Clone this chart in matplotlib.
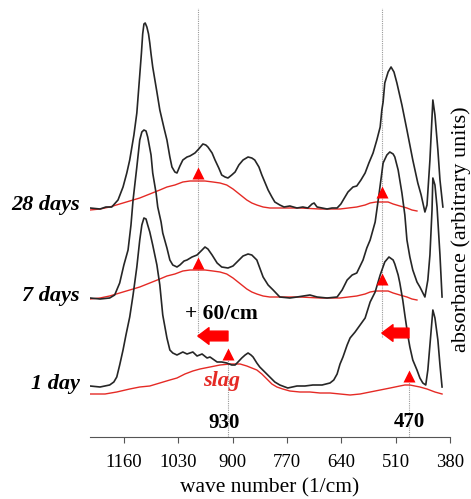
import numpy as np
import matplotlib
matplotlib.use("Agg")
import matplotlib.pyplot as plt

# wave numbers (1/cm) and absorbance (arb. units)
wn_28 = [1241, 1217, 1203, 1189, 1174, 1162, 1153, 1146, 1136, 1129, 1122, 1118, 1115, 1112,
         1109, 1105, 1101, 1098, 1095, 1091, 1081, 1074, 1064, 1057, 1050, 1045, 1038, 1033,
         1026, 1019, 1009, 1002, 990, 981, 971, 964, 959, 949, 942, 933, 926, 918, 911, 902,
         894, 885, 875, 863, 854, 847, 837, 830, 823, 815, 806, 799, 787, 777, 763, 746, 732,
         720, 710, 705, 698, 686, 674, 662, 650, 641, 634, 624, 612, 603, 593, 583, 574, 564,
         555, 547, 543, 540, 536, 528, 521, 514, 507, 495, 483, 476, 469, 457, 449, 440, 435,
         428, 421, 416, 409, 404, 397]
abs_28 = [0.00, -0.01, 0.01, 0.01, 0.08, 0.21, 0.35, 0.48, 0.73, 0.95, 1.33, 1.55, 1.74, 1.84,
          1.85, 1.81, 1.74, 1.65, 1.54, 1.41, 1.16, 0.98, 0.80, 0.68, 0.51, 0.41, 0.36, 0.35,
          0.42, 0.48, 0.51, 0.52, 0.55, 0.59, 0.64, 0.63, 0.61, 0.55, 0.48, 0.40, 0.33, 0.31,
          0.30, 0.33, 0.36, 0.43, 0.48, 0.51, 0.50, 0.48, 0.41, 0.33, 0.26, 0.18, 0.11, 0.06,
          0.03, 0.01, 0.02, 0.00, 0.01, 0.00, 0.04, 0.05, 0.01, 0.00, -0.01, 0.00, 0.00, 0.04,
          0.09, 0.16, 0.21, 0.22, 0.28, 0.35, 0.45, 0.55, 0.68, 0.81, 0.98, 1.06, 1.25, 1.36,
          1.41, 1.36, 1.25, 1.03, 0.78, 0.63, 0.48, 0.25, 0.13, -0.04, 0.03, 0.48, 1.08, 0.93,
          0.58, 0.28, 0.01]

wn_7 = [1241, 1217, 1194, 1182, 1170, 1160, 1150, 1143, 1138, 1129, 1122, 1117, 1112, 1107,
        1103, 1095, 1091, 1083, 1079, 1071, 1067, 1057, 1050, 1043, 1033, 1026, 1016, 1009,
        997, 985, 973, 966, 959, 949, 937, 926, 911, 899, 887, 875, 863, 854, 842, 827,
        815, 803, 787, 763, 746, 715, 698, 674, 650, 638, 626, 614, 603, 588, 579, 571,
        559, 550, 540, 531, 524, 516, 512, 504, 495, 488, 483, 476, 469, 459, 452, 440,
        433, 428, 423, 421, 416, 411, 404, 399]
abs_7 = [0.00, -0.01, 0.00, 0.03, 0.15, 0.33, 0.48, 0.73, 0.98, 1.31, 1.58, 1.66, 1.68, 1.67,
         1.61, 1.43, 1.25, 1.05, 0.91, 0.76, 0.65, 0.50, 0.38, 0.33, 0.31, 0.33, 0.37, 0.38,
         0.41, 0.43, 0.48, 0.51, 0.49, 0.43, 0.35, 0.31, 0.30, 0.32, 0.37, 0.42, 0.44, 0.43,
         0.38, 0.21, 0.13, 0.08, 0.01, 0.00, 0.01, 0.03, 0.01, 0.00, 0.01, 0.08, 0.18, 0.23,
         0.25, 0.38, 0.50, 0.58, 0.76, 1.03, 1.35, 1.43, 1.46, 1.44, 1.41, 1.28, 1.05, 0.83,
         0.58, 0.41, 0.28, 0.16, 0.11, 0.01, 0.18, 0.43, 0.88, 1.20, 1.13, 0.91, 0.43, 0.01]

wn_1 = [1241, 1217, 1194, 1184, 1177, 1170, 1162, 1155, 1146, 1138, 1129, 1122, 1117, 1112,
        1107, 1103, 1098, 1091, 1081, 1074, 1067, 1057, 1050, 1043, 1033, 1019, 1009, 995,
        985, 973, 961, 954, 937, 926, 914, 902, 894, 887, 878, 870, 863, 856, 851, 842,
        835, 823, 811, 799, 787, 768, 746, 727, 708, 686, 667, 658, 650, 643, 636, 626,
        619, 607, 595, 583, 571, 559, 547, 536, 526, 516, 512, 504, 500, 493, 488, 481,
        476, 469, 459, 452, 445, 438, 433, 428, 423, 421, 416, 409, 404, 399]
abs_1 = [0.00, -0.01, 0.01, 0.04, 0.09, 0.21, 0.36, 0.51, 0.69, 0.91, 1.19, 1.46, 1.61, 1.68,
         1.67, 1.61, 1.54, 1.41, 1.21, 1.01, 0.71, 0.48, 0.36, 0.33, 0.31, 0.34, 0.32, 0.34,
         0.30, 0.32, 0.28, 0.29, 0.24, 0.24, 0.23, 0.21, 0.21, 0.24, 0.28, 0.31, 0.33, 0.31,
         0.29, 0.23, 0.19, 0.14, 0.09, 0.04, 0.01, -0.02, 0.00, 0.00, 0.01, 0.01, 0.03, 0.06,
         0.12, 0.22, 0.29, 0.41, 0.48, 0.54, 0.61, 0.68, 0.84, 0.94, 1.11, 1.24, 1.29, 1.26,
         1.22, 1.11, 1.03, 0.86, 0.71, 0.51, 0.39, 0.26, 0.16, 0.08, 0.03, 0.01, 0.16, 0.41,
         0.66, 0.76, 0.68, 0.46, 0.21, -0.01]

# slag spectrum, as measured and shifted by +60/cm
wn_slag = [1241, 1205, 1177, 1146, 1122, 1098, 1074, 1050, 1033, 1014, 995, 978, 954, 930,
           906, 882, 866, 854, 842, 830, 818, 806, 794, 780, 763, 739, 715, 691, 667, 643,
           619, 595, 571, 547, 523, 500, 488, 476, 464, 452, 435, 416, 399]
abs_slag = [0.00, 0.00, 0.02, 0.05, 0.07, 0.08, 0.11, 0.14, 0.16, 0.20, 0.23, 0.25, 0.27, 0.29,
            0.30, 0.30, 0.28, 0.26, 0.24, 0.20, 0.15, 0.10, 0.07, 0.05, 0.03, 0.02, 0.02, 0.01,
            0.01, 0.00, -0.01, 0.00, 0.02, 0.04, 0.06, 0.08, 0.09, 0.09, 0.08, 0.07, 0.05, 0.02,
            0.00]
wn_slag_sh = [1241, 1217, 1194, 1170, 1138, 1122, 1098, 1074, 1057, 1038, 1019, 1002, 985, 966,
              947, 930, 914, 899, 890, 878, 866, 854, 842, 827, 811, 780, 739, 691, 643, 603,
              583, 571, 557, 543, 528, 516, 500, 483, 471, 459]
abs_slag_sh = [0.00, 0.01, 0.03, 0.06, 0.10, 0.12, 0.16, 0.20, 0.23, 0.25, 0.28, 0.29, 0.29, 0.29,
               0.28, 0.27, 0.25, 0.21, 0.18, 0.14, 0.10, 0.07, 0.05, 0.03, 0.02, 0.02, 0.02, 0.01,
               0.01, 0.03, 0.05, 0.07, 0.08, 0.08, 0.08, 0.06, 0.04, 0.02, 0.00, -0.01]

labels = ["28 days", "7 days", "1 day"]
offsets = [2.29, 1.39, 0.51]
slag_offsets = [2.27, 1.38, 0.43]

# peak markers (wave number, absorbance incl. offset)
peak_wn = [983, 543, 983, 543, 911, 478]
peak_y = [2.64, 2.45, 1.74, 1.58, 0.83, 0.61]

xticks = [1160, 1030, 900, 770, 640, 510, 380]

RED = "#e52a25"
BLACK = "#262626"
serif = ["Liberation Serif", "DejaVu Serif"]
plt.rcParams["font.family"] = serif

fig = plt.figure(figsize=(4.71, 4.99), dpi=100)
ax = fig.add_axes([90 / 471, 62 / 499, 360 / 471, 437 / 499])

spectra = [(wn_28, abs_28), (wn_7, abs_7), (wn_1, abs_1)]
for (wn, ab), off in zip(spectra, offsets):
    ax.plot(wn, np.array(ab) + off, color=BLACK, lw=1.2, zorder=3)

for i, off in enumerate(slag_offsets):
    if i < 2:
        ax.plot(wn_slag_sh, np.array(abs_slag_sh) + off, color=RED, lw=1.0, zorder=2)
    else:
        ax.plot(wn_slag, np.array(abs_slag) + off, color=RED, lw=1.0, zorder=2)

# dotted guide lines
ax.vlines([983, 543], 1.00, 4.29, colors="#9a9a9a", linestyles=(0, (1, 1)), lw=0.8, zorder=1)
ax.vlines([911, 478], 0.0, [0.85, 0.59], colors="#9a9a9a", linestyles=(0, (1, 1)), lw=0.8, zorder=1)

ax.plot(peak_wn, peak_y, "^", color="#ff0000", ms=9, mec="none", zorder=4)

# shift arrows
for start, end, y in [(911, 983, 1.01), (478, 543, 1.04)]:
    ax.annotate("", xy=(end, y), xytext=(start, y),
                arrowprops=dict(arrowstyle="simple,head_length=0.8,head_width=1.2,tail_width=0.7",
                                color="#ff0000", shrinkA=0, shrinkB=0, mutation_scale=10))

for lab, y in zip(labels, [2.32, 1.41, 0.53]):
    ax.text(1265, y, lab, ha="right", va="center", fontsize=16, fontweight="bold",
            fontstyle="italic", clip_on=False)

ax.text(926, 1.23, "+ 60/cm", ha="center", va="center", fontsize=15.5, fontweight="bold")
ax.text(926, 0.56, "slag", ha="center", va="center", fontsize=16, fontweight="bold",
        fontstyle="italic", color=RED)
ax.text(921, 0.14, "930", ha="center", va="center", fontsize=15, fontweight="bold")
ax.text(476, 0.15, "470", ha="center", va="center", fontsize=15, fontweight="bold")

ax.text(1.03, 0.476, "absorbance (arbitrary units)", transform=ax.transAxes, rotation=90,
        ha="center", va="center", fontsize=16)

ax.set_xlim(1241, 380)
ax.set_ylim(0, 4.37)
ax.set_xticks(xticks)
ax.set_xticklabels([str(t) for t in xticks])
ax.set_yticks([])
ax.tick_params(axis="x", direction="out", length=4.5, width=0.8, color="#555555",
               labelsize=13.5, pad=8)
for side in ["left", "top", "right"]:
    ax.spines[side].set_visible(False)
ax.spines["bottom"].set_color("#555555")
ax.spines["bottom"].set_linewidth(0.8)
ax.set_xlabel("wave number (1/cm)", fontsize=15.5, labelpad=5)

fig.savefig("out.png", dpi=100)
